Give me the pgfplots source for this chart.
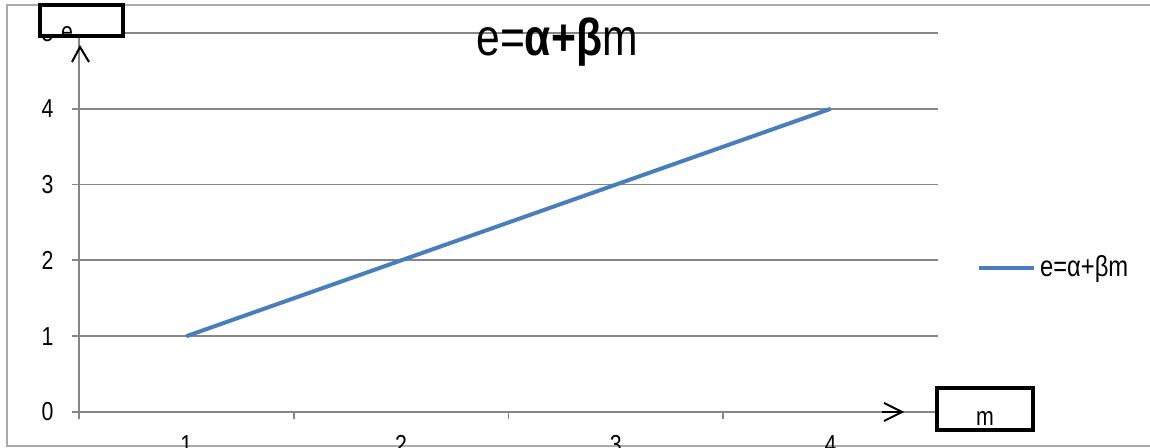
\documentclass[border=0pt]{standalone}
\usepackage{fontspec}
\setmainfont{Liberation Sans}[FakeStretch=0.82]
\usepackage{pgfplots}
\pgfplotsset{compat=1.18}

\definecolor{serie}{RGB}{74,126,187}
\definecolor{gridgray}{RGB}{134,134,134}
\definecolor{framegray}{RGB}{170,170,170}

\begin{document}
\begin{tikzpicture}[x=0.5pt, y=0.5pt]
\useasboundingbox (0,0) rectangle (1150,448);
\clip (0,0) rectangle (1150,448);
% chart frame
\draw[framegray, line width=0.75pt] (7,2) rectangle (1170,443);

\begin{axis}[
    at={(39.5pt,18pt)}, anchor=south west,
    scale only axis,
    width=429.5pt, height=189.5pt,
    xmin=0.5, xmax=4.5,
    ymin=0, ymax=5,
    axis x line*=bottom, axis y line*=left,
    axis line style={gridgray, line width=0.9pt, -},
    xtick={0.5,1.5,2.5,3.5,4.5},
    xticklabels={,,,,},
    extra x ticks={1,2,3,4},
    extra x tick labels={1,2,3,4},
    extra x tick style={major tick length=0pt, grid=none},
    ytick={0,1,2,3,4,5},
    yticklabels={0,1,2,3,4,5},
    tick align=outside,
    major tick length=3.5pt,
    tick style={gridgray, line width=0.9pt},
    ymajorgrids=true,
    grid style={gridgray, line width=0.9pt},
    /pgf/number format/assume math mode=true,
    tick label style={font=\fontsize{13}{15}\selectfont, text=black},
    yticklabel style={anchor=east, inner sep=0pt, xshift=-9pt},
    xticklabel style={anchor=base, inner sep=0pt, yshift=-21pt},
    legend style={at={(axis description cs:1.045,0.38)}, anchor=west,
        draw=none, fill=none, font=\fontsize{14.5}{16}\selectfont,
        inner sep=0pt},
    legend image code/.code={\draw[#1, line width=2pt] (0pt,0pt) -- (27.5pt,0pt);},
]
\addplot[serie, line width=2pt, no markers] coordinates {
    (1,1) (2,2) (3,3) (4,4)
};
\addlegendentry{e=α+βm}
\end{axis}

% title
\node[anchor=base, inner sep=0pt, font=\fontsize{26}{30}\selectfont] at (557,392) {e=\textbf{α+β}m};

% arrow heads on the axes
\draw[black, line width=1pt] (882,36) -- (902,36);
\draw[black, line width=1pt] (884,45) -- (902,36) -- (884,27);
\draw[black, line width=1pt] (72,386) -- (80,401) -- (89,386);

% label boxes
\draw[black, line width=2pt, fill=white] (40,443) rectangle (123,412);
\begin{scope}
\clip (41,442) rectangle (122,413);
\node[anchor=base, inner sep=0pt, font=\fontsize{13}{15}\selectfont] at (67,407) {e};
\end{scope}
\draw[black, line width=2pt, fill=white] (937,60) rectangle (1033,18);
\node[anchor=base, inner sep=0pt, font=\fontsize{13}{15}\selectfont] at (985,22) {m};
\end{tikzpicture}
\end{document}
